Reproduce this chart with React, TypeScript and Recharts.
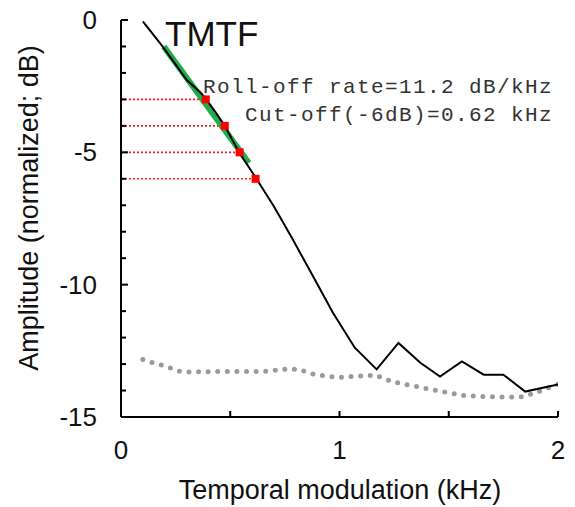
import { LineChart, Line, XAxis, YAxis, ReferenceLine } from 'recharts';

// TMTF curve (kHz, dB)
const tmtfFreq = [0.1, 0.19, 0.3, 0.365, 0.39, 0.43, 0.475, 0.54, 0.62, 0.7, 0.78, 0.88, 0.97, 1.07, 1.17, 1.27, 1.37, 1.46, 1.56, 1.66, 1.75, 1.85, 2.0];
const tmtfAmp = [-0.05, -1.0, -2.26, -2.75, -3.0, -3.45, -4.0, -5.0, -6.0, -7.05, -8.2, -9.7, -11.06, -12.38, -13.2, -12.2, -12.95, -13.47, -12.9, -13.4, -13.4, -14.04, -13.77];

// noise floor (dotted grey)
const noiseFreq = [0.1, 0.14, 0.18, 0.23, 0.27, 0.32, 0.45, 0.55, 0.65, 0.72, 0.77, 0.82, 0.87, 0.95, 1.0, 1.08, 1.17, 1.21, 1.26, 1.37, 1.47, 1.57, 1.66, 1.75, 1.84, 1.89, 2.0];
const noiseAmp = [-12.83, -12.94, -13.02, -13.16, -13.28, -13.3, -13.28, -13.28, -13.28, -13.22, -13.18, -13.22, -13.36, -13.47, -13.5, -13.45, -13.43, -13.58, -13.7, -13.88, -14.04, -14.19, -14.23, -14.25, -14.23, -14.1, -13.77];

// linear fit (roll-off)
const fitFreq = [0.196, 0.585];
const fitAmp = [-1.0, -5.4];

// -3..-6 dB crossings
const crossLevels = [-3, -4, -5, -6];
const crossFreq = [0.388, 0.475, 0.543, 0.616];

const xTicks = [0, 0.5, 1, 1.5, 2];
const yTicks = [0, -1, -2, -3, -4, -5, -6, -7, -8, -9, -10, -11, -12, -13, -14, -15];

const tmtfData = tmtfFreq.map((x, i) => ({ x, y: tmtfAmp[i] }));
const noiseData = noiseFreq.map((x, i) => ({ x, y: noiseAmp[i] }));
const fitData = fitFreq.map((x, i) => ({ x, y: fitAmp[i] }));
const crossData = crossFreq.map((x, i) => ({ x, y: crossLevels[i] }));

const sans = 'Liberation Sans, Arial, sans-serif';
const mono = 'Liberation Mono, Courier New, monospace';

const XTick = (props: any) => {
  const { x, y, payload } = props;
  const v = payload.value;
  return (
    <g>
      <line x1={x} y1={y} x2={x} y2={y - 6} stroke="#000" strokeWidth={2} />
      {Number.isInteger(v) && (
        <text x={x} y={y + 33} textAnchor="middle" dominantBaseline="central" fontSize={26} fontFamily={sans} fill="#111">
          {v}
        </text>
      )}
    </g>
  );
};

const YTick = (props: any) => {
  const { x, y, payload } = props;
  const v = payload.value;
  const major = v % 5 === 0;
  return (
    <g>
      <line x1={x} y1={y} x2={x + (major ? 7 : 5)} y2={y} stroke="#000" strokeWidth={2} />
      {major && (
        <text x={x - 24} y={y} textAnchor="end" dominantBaseline="central" fontSize={26} fontFamily={sans} fill="#111">
          {v}
        </text>
      )}
    </g>
  );
};

const Square = (props: any) => {
  const { cx, cy } = props;
  if (cx == null || cy == null) return null;
  return <rect x={cx - 4} y={cy - 4} width={8} height={8} fill="#ff0000" />;
};

export default function App() {
  return (
    <div style={{ position: 'absolute', left: 0, top: 0 }}>
      <LineChart width={575} height={507} margin={{ top: 20, right: 17, bottom: 50, left: 61 }}>
        <XAxis
          type="number"
          dataKey="x"
          domain={[0, 2]}
          ticks={xTicks}
          height={40}
          tickSize={0}
          tickMargin={0}
          tick={<XTick />}
          tickLine={false}
          axisLine={{ stroke: '#000', strokeWidth: 2 }}
          allowDataOverflow
        />
        <YAxis
          type="number"
          domain={[-15, 0]}
          ticks={yTicks}
          width={60}
          tickSize={0}
          tickMargin={0}
          tick={<YTick />}
          tickLine={false}
          axisLine={{ stroke: '#000', strokeWidth: 2 }}
          allowDataOverflow
        />
        <Line
          data={noiseData}
          dataKey="y"
          stroke="#9a9a9a"
          strokeWidth={5}
          strokeDasharray="0 9.6"
          strokeLinecap="round"
          dot={false}
          isAnimationActive={false}
          type="linear"
        />
        {crossLevels.map((lv, i) => (
          <ReferenceLine
            key={lv}
            segment={[{ x: 0, y: lv }, { x: crossFreq[i], y: lv }]}
            stroke="#ff1a1a"
            strokeWidth={1.6}
            strokeDasharray="2 2"
          />
        ))}
        <Line
          data={fitData}
          dataKey="y"
          stroke="#1fae4b"
          strokeWidth={6}
          dot={false}
          isAnimationActive={false}
          type="linear"
        />
        <Line
          data={tmtfData}
          dataKey="y"
          stroke="#000"
          strokeWidth={2}
          dot={false}
          isAnimationActive={false}
          type="linear"
        />
        <Line
          data={crossData}
          dataKey="y"
          stroke="none"
          dot={<Square />}
          isAnimationActive={false}
        />
        <text x={165} y={46} fontSize={35} fontFamily={sans} fill="#111">TMTF</text>
        <text x={553} y={93} textAnchor="end" fontSize={21} letterSpacing={1.4} fontFamily={mono} fill="#333">
          Roll-off rate=11.2 dB/kHz
        </text>
        <text x={553} y={121} textAnchor="end" fontSize={21} letterSpacing={1.4} fontFamily={mono} fill="#333">
          Cut-off(-6dB)=0.62 kHz
        </text>
        <text x={340} y={490} textAnchor="middle" dominantBaseline="central" fontSize={27} fontFamily={sans} fill="#111">
          Temporal modulation (kHz)
        </text>
        <text
          x={29}
          y={208}
          textAnchor="middle"
          dominantBaseline="central"
          fontSize={27}
          fontFamily={sans}
          fill="#111"
          transform="rotate(-90 29 208)"
        >
          Amplitude (normalized; dB)
        </text>
      </LineChart>
    </div>
  );
}
